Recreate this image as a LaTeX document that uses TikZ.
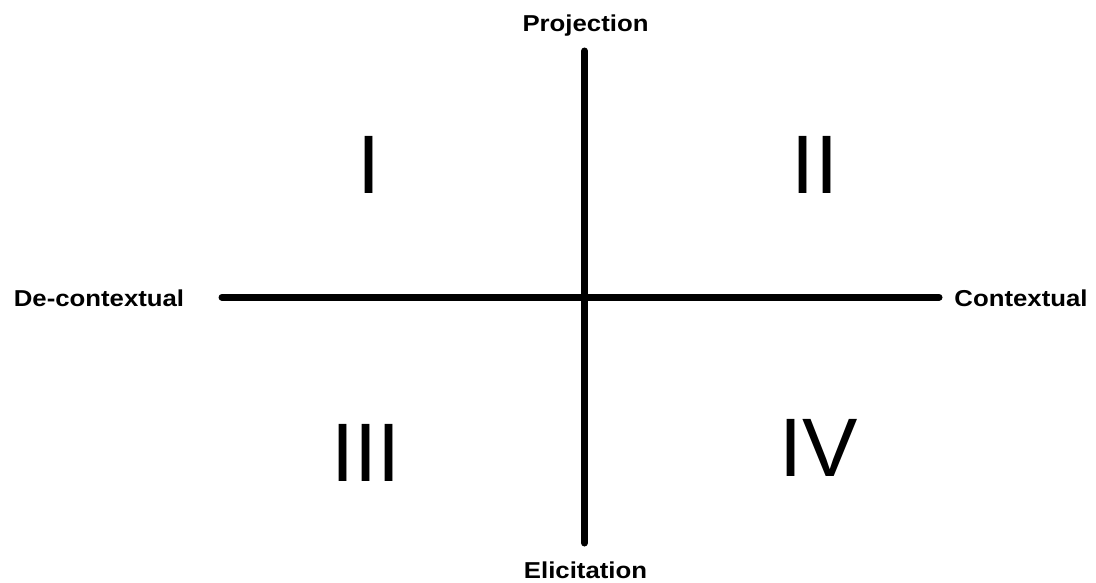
\documentclass[tikz,border=0pt]{standalone}
\usepackage{fontspec}
\setmainfont{Liberation Sans}
\newfontfamily\labfont[FakeStretch=1.12]{Liberation Sans}
\begin{document}
\begin{tikzpicture}[x=1pt,y=-1pt,
  axis/.style={line width=7pt,line cap=round},
  axlabel/.style={font=\labfont\fontsize{23}{26}\bfseries\selectfont,inner sep=0pt,anchor=base},
  quad/.style={font=\fontsize{83}{90}\selectfont,inner sep=0pt,anchor=base}]
\useasboundingbox (0,0) rectangle (1096,583);
\coordinate (top) at (584.5,51);
\coordinate (bot) at (584.5,543);
\coordinate (lft) at (222,297.3);
\coordinate (rgt) at (939,297.3);
\draw[axis] (top) -- (bot);
\draw[axis] (lft) -- (rgt);
\node[axlabel] (proj) at (585.5,31.5) {Projection};
\node[axlabel] (elic) at (585.5,578) {Elicitation};
\node[axlabel] (dec) at (99,306.5) {De-contextual};
\node[axlabel] (con) at (1021,306.5) {Contextual};
\node[quad] (q1) at (369,194) {I};
\node[quad] (q2) at (815,194) {II};
\node[quad] (q3) at (366,481) {III};
\node[quad] (q4) at (819,476) {IV};
\end{tikzpicture}
\end{document}
